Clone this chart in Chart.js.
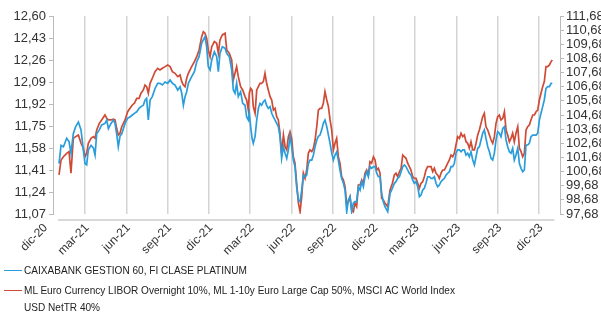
<!DOCTYPE html>
<html>
<head>
<meta charset="utf-8">
<script src="https://cdn.jsdelivr.net/npm/chart.js@4.4.1/dist/chart.umd.min.js"></script>
<style>
  body { margin: 0; background: #fff; font-family: "Liberation Sans", Arial, sans-serif; }
  #wrap { position: relative; width: 601px; height: 313px; }
  .lg { position: absolute; left: 4px; font-size: 11px; color: #222; line-height: 17px; }
  .lg .sw { position: absolute; left: 0; top: 8px; width: 18px; border-top: 1.5px solid; }
  .lg .tx { position: absolute; left: 20px; top: 0; width: 482px; white-space: normal;
            transform: scaleX(0.915); transform-origin: 0 0; }
</style>
</head>
<body>
<div id="wrap">
  <canvas id="chart"></canvas>
  <div id="legend"></div>
</div>
<script>
// months since 1 dec 2020
const months = [
  1.11,1.26,1.43,1.67,1.84,1.98,2.15,2.32,2.52,2.71,2.88,3.00,3.12,3.24,3.44,3.61,3.73,3.85,4.04,4.21,
  4.45,4.58,4.70,4.89,5.06,5.18,5.30,5.42,5.54,5.67,5.91,6.10,6.27,6.44,6.59,6.76,6.93,7.07,7.24,7.36,
  7.48,7.60,7.73,7.89,8.09,8.28,8.45,8.62,8.82,9.01,9.18,9.35,9.54,9.74,9.91,10.03,10.15,10.27,10.39,10.51,
  10.75,10.95,11.12,11.29,11.48,11.60,11.72,11.84,11.96,12.09,12.21,12.40,12.57,12.69,12.81,12.98,13.18,
  13.30,13.49,13.66,13.78,13.90,14.02,14.14,14.31,14.46,14.63,14.75,14.87,14.94,15.04,15.14,15.23,15.36,15.48,
  15.60,15.72,15.84,15.96,16.08,16.20,16.32,16.45,16.57,16.69,16.81,16.93,17.05,17.17,17.29,17.42,17.54,17.66,
  17.78,17.90,18.02,18.14,18.26,18.38,18.51,18.63,18.75,18.87,18.99,19.11,19.23,19.35,19.48,19.60,19.72,19.84,
  19.96,20.08,20.20,20.32,20.44,20.57,20.69,20.81,20.93,21.05,21.17,21.29,21.41,21.53,21.65,21.78,21.90,22.02,
  22.14,22.26,22.38,22.50,22.62,22.74,22.87,22.99,23.11,23.23,23.35,23.47,23.59,23.71,23.83,23.96,24.08,24.20,
  24.32,24.44,24.56,24.68,24.80,
  25.00,25.17,25.34,25.48,25.60,25.72,25.85,25.97,26.09,26.21,26.33,26.45,26.57,26.69,26.81,26.93,27.06,27.18,
  27.30,27.42,27.54,27.66,27.78,27.90,28.03,28.15,28.27,28.39,28.51,28.63,28.75,28.87,28.99,29.12,29.24,29.36,
  29.48,29.60,29.72,29.84,29.96,30.08,30.21,30.33,30.45,30.57,30.69,30.81,30.93,31.05,31.18,31.30,31.42,31.54,
  31.66,31.78,31.90,32.02,32.14,32.27,32.39,32.51,32.63,32.75,32.87,32.99,33.11,33.23,33.36,33.48,33.60,33.72,
  33.84,33.96,34.08,34.20,34.32,34.45,34.57,34.69,34.81,34.93,35.05,35.17,35.29,35.41,35.54,35.66,35.78,35.90,
  36.02,36.14,36.26,36.38,36.50,36.63,36.75,36.87,36.96
];

// CAIXABANK GESTION 60 (eje izquierdo)
const fund = [
  11.46,11.60,11.59,11.655,11.63,11.54,11.69,11.745,11.78,11.72,11.565,11.46,11.45,11.565,11.60,11.58,11.526,11.69,11.72,11.758,
  11.77,11.796,11.73,11.77,11.796,11.77,11.69,11.59,11.67,11.69,11.77,11.81,11.82,11.835,11.848,11.86,11.887,11.90,11.91,11.95,
  11.964,11.796,11.95,11.977,12.04,12.08,12.08,12.067,12.09,12.08,12.106,12.08,12.067,12.028,12.054,12.003,11.91,11.977,12.015,12.08,
  12.131,12.17,12.247,12.286,12.39,12.415,12.44,12.363,12.208,12.183,12.26,12.324,12.286,12.17,12.312,12.363,12.35,
  12.312,12.286,12.183,12.028,12.003,12.08,11.977,12.015,11.925,11.91,11.82,11.796,11.848,11.745,11.655,11.616,11.67,11.796,
  11.887,11.925,11.91,11.938,11.95,11.91,11.887,11.90,11.848,11.82,11.796,11.77,11.745,11.67,11.50,11.59,11.54,11.50,
  11.565,11.67,11.59,11.487,11.436,11.281,11.178,11.165,11.255,11.371,11.358,11.371,11.46,11.487,11.487,11.526,11.59,11.64,
  11.67,11.68,11.72,11.77,11.796,11.745,11.68,11.616,11.54,11.487,11.526,11.55,11.487,11.41,11.346,11.307,11.255,11.088,
  11.178,11.204,11.088,11.153,11.165,11.165,11.281,11.255,11.32,11.281,11.358,11.397,11.358,11.436,11.423,11.436,11.436,11.385,
  11.358,11.358,11.23,11.165,11.126,
  11.088,11.23,11.269,11.307,11.32,11.346,11.358,11.397,11.436,11.449,11.436,11.41,11.385,11.371,11.333,11.307,11.32,11.281,
  11.204,11.217,11.255,11.269,11.307,11.358,11.358,11.346,11.346,11.358,11.307,11.281,11.294,11.32,11.333,11.346,11.371,11.385,
  11.397,11.436,11.436,11.46,11.54,11.565,11.565,11.551,11.565,11.565,11.526,11.54,11.513,11.551,11.487,11.449,11.513,11.578,
  11.59,11.642,11.694,11.72,11.655,11.59,11.551,11.50,11.487,11.54,11.642,11.706,11.694,11.667,11.732,11.745,11.642,11.59,
  11.551,11.54,11.578,11.487,11.526,11.578,11.46,11.423,11.397,11.41,11.603,11.603,11.616,11.667,11.68,11.68,11.68,11.694,
  11.796,11.848,11.90,11.951,12.041,12.054,12.054,12.08,12.08
];

// indice de referencia (eje derecho)
const bench = [
  100.44,101.50,101.73,101.97,102.09,100.56,103.03,103.15,103.27,102.68,102.33,101.73,101.97,102.68,103.03,103.15,103.03,103.62,104.09,104.33,
  104.68,104.45,104.33,104.33,104.38,104.33,103.74,103.27,103.39,103.85,104.33,104.91,105.15,105.39,105.51,105.86,105.86,106.22,106.45,106.80,
  106.68,106.22,106.92,107.28,107.74,107.98,107.86,107.98,108.10,108.22,108.10,107.74,107.63,107.39,107.51,107.04,106.80,106.68,107.28,107.63,
  108.10,108.45,108.80,109.28,110.22,110.57,110.46,110.11,109.28,108.80,109.51,109.87,109.75,109.04,109.99,110.34,110.46,
  109.28,109.04,108.57,107.16,107.63,108.10,107.39,106.68,106.45,105.98,105.74,105.03,106.22,106.57,106.45,105.27,104.80,106.45,
  106.68,106.92,106.92,107.04,107.63,106.92,106.45,105.98,105.74,105.03,105.15,104.56,104.33,103.39,101.97,103.27,102.44,102.21,
  103.15,103.50,103.03,101.73,101.27,99.85,98.44,97.84,98.90,100.56,100.20,100.79,101.97,102.21,102.09,102.33,102.91,103.85,
  105.03,105.15,105.15,105.51,106.33,105.74,105.27,104.33,103.62,102.21,102.68,103.03,101.73,101.27,100.32,100.08,99.61,98.32,
  98.55,98.90,97.96,97.84,98.44,98.20,99.73,99.73,100.08,99.85,100.56,100.79,100.44,101.38,101.27,101.73,101.50,100.79,
  100.91,100.56,98.79,98.67,98.44,
  98.20,99.38,99.85,100.44,100.56,100.32,100.67,100.91,101.85,101.73,101.62,101.27,101.03,100.79,100.32,100.20,100.20,99.85,
  99.50,99.85,99.96,100.32,100.79,101.03,101.03,101.03,100.67,100.91,100.56,100.44,100.20,100.56,100.79,100.79,101.03,101.27,
  101.50,101.85,101.73,101.97,102.56,103.15,103.03,103.39,103.15,103.27,102.79,102.68,102.33,102.79,102.21,102.21,102.68,103.27,
  103.62,104.09,104.56,104.80,103.85,103.62,103.27,102.91,102.68,103.15,104.09,104.56,104.68,104.33,104.45,104.91,103.62,103.27,
  102.79,103.03,103.39,102.79,103.39,103.85,102.33,102.09,101.73,101.97,103.62,103.85,103.97,104.33,104.68,104.68,104.91,105.03,
  105.74,106.22,106.68,107.04,108.10,108.10,108.22,108.45,108.57
];

const fundName = 'CAIXABANK GESTION 60, FI CLASE PLATINUM';
const benchName = 'ML Euro Currency LIBOR Overnight 10%, ML 1-10y Euro Large Cap 50%, MSCI AC World Index USD NetTR 40%';

const xTickMonths = [0, 3, 6, 9, 12, 15, 18, 21, 24, 27, 30, 33, 36];
const xTickLabels = ['dic-20','mar-21','jun-21','sep-21','dic-21','mar-22','jun-22','sep-22','dic-22','mar-23','jun-23','sep-23','dic-23'];
const leftTicks = [11.07, 11.24, 11.41, 11.58, 11.75, 11.92, 12.09, 12.26, 12.43, 12.60];
const rightTicks = [97.68, 98.68, 99.68, 100.68, 101.68, 102.68, 103.68, 104.68, 105.68, 106.68, 107.68, 108.68, 109.68, 110.68, 111.68];

const blue = '#2a9ddb';
const red = '#cf4b36';
const fontFam = '"Liberation Sans", Arial, sans-serif';
const fmt = v => Number(v).toFixed(2).replace('.', ',');

// legend as html
const legendEl = document.getElementById('legend');
[[fundName, blue, 262], [benchName, red, 282]].forEach(([name, col, top]) => {
  const d = document.createElement('div');
  d.className = 'lg';
  d.style.top = top + 'px';
  d.innerHTML = '<span class="sw" style="border-color:' + col + '"></span><span class="tx"></span>';
  d.querySelector('.tx').textContent = name;
  legendEl.appendChild(d);
});

// x labels + bottom axis line, drawn with the x scale
const xAxisDecor = {
  id: 'xAxisDecor',
  afterDraw(chart) {
    const { ctx, chartArea } = chart;
    const x = chart.scales.x;
    const y0 = chartArea.bottom + 6;
    ctx.save();
    ctx.strokeStyle = '#cccccc';
    ctx.lineWidth = 1.5;
    ctx.beginPath();
    ctx.moveTo(x.getPixelForValue(months[0]) - 1, y0);
    ctx.lineTo(x.getPixelForValue(months[months.length - 1]) + 2, y0);
    ctx.stroke();
    ctx.fillStyle = '#333';
    ctx.font = '12px ' + fontFam;
    ctx.textAlign = 'right';
    ctx.textBaseline = 'middle';
    xTickLabels.forEach((lab, i) => {
      const px = x.getPixelForValue(xTickMonths[i]);
      ctx.save();
      ctx.translate(px + 2, y0 + 6);
      ctx.rotate(-Math.PI / 4);
      ctx.fillText(lab, 0, 0);
      ctx.restore();
    });
    ctx.restore();
  }
};

const ctx = document.getElementById('chart').getContext('2d');

new Chart(ctx, {
  type: 'line',
  data: {
    datasets: [{
      label: fundName,
      data: months.map((m, i) => ({ x: m, y: fund[i] })),
      borderColor: blue,
      borderWidth: 1.7,
      pointRadius: 0,
      yAxisID: 'yl'
    }, {
      label: benchName,
      data: months.map((m, i) => ({ x: m, y: bench[i] })),
      borderColor: red,
      borderWidth: 1.7,
      pointRadius: 0,
      yAxisID: 'yr'
    }]
  },
  options: {
    responsive: true,
    maintainAspectRatio: false,
    animation: false,
    layout: { padding: { top: 16, left: 0, right: 0, bottom: 0 } },
    plugins: { legend: { display: false }, tooltip: { enabled: false } },
    scales: {
      x: {
        type: 'linear',
        min: 0.674,
        max: 37.52,
        afterBuildTicks: s => { s.ticks = xTickMonths.filter(m => m >= s.min).map(v => ({ value: v })); },
        afterFit: s => { s.height = 99; },
        grid: { color: '#d4d4d4', lineWidth: 1.5, drawTicks: false },
        border: { display: false },
        ticks: { display: false }
      },
      yl: {
        position: 'left',
        min: 11.07,
        max: 12.60,
        afterBuildTicks: s => { s.ticks = leftTicks.map(v => ({ value: v })); },
        afterFit: s => { s.width = 53; },
        grid: { drawOnChartArea: false, tickLength: 4, color: '#bbbbbb' },
        border: { color: '#bbbbbb' },
        ticks: { autoSkip: false, color: '#333', padding: 3, font: { size: 13, family: fontFam }, callback: v => fmt(v) }
      },
      yr: {
        position: 'right',
        min: 97.68,
        max: 111.68,
        afterBuildTicks: s => { s.ticks = rightTicks.map(v => ({ value: v })); },
        afterFit: s => { s.width = 41; },
        grid: { drawOnChartArea: false, tickLength: 4, color: '#bbbbbb' },
        border: { color: '#bbbbbb' },
        ticks: { autoSkip: false, color: '#333', padding: 2, font: { size: 13, family: fontFam }, callback: v => fmt(v) }
      }
    }
  },
  plugins: [xAxisDecor]
});
</script>
</body>
</html>
